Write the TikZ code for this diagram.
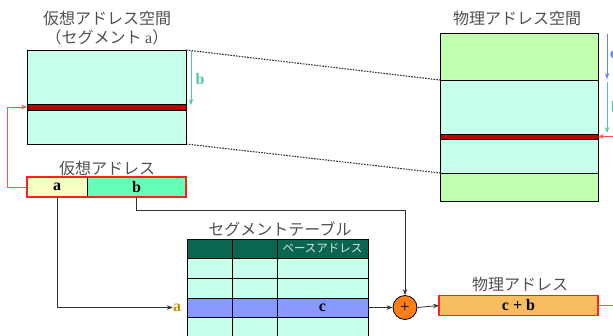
\documentclass[tikz,border=0pt]{standalone}
\usepackage{fontspec}
\setmainfont{Liberation Serif}
\newfontfamily\jp{Noto Sans CJK JP}
\newfontfamily\jph[RawFeature=+halt]{Noto Sans CJK JP}
\usetikzlibrary{arrows.meta,fit}
\definecolor{vcyan}{HTML}{C8FFEA}
\definecolor{vgreen}{HTML}{C0FFB0}
\definecolor{bandred}{HTML}{C00000}
\definecolor{ayellow}{HTML}{F8FFC0}
\definecolor{bmint}{HTML}{66FFB8}
\definecolor{hdr}{HTML}{0B6650}
\definecolor{tcyan}{HTML}{C8FFEA}
\definecolor{tblue}{HTML}{8899FF}
\definecolor{porange}{HTML}{F8BC60}
\definecolor{plusor}{HTML}{FF7F1A}
\definecolor{gold}{HTML}{C89000}
\definecolor{teal}{HTML}{50C8A0}
\definecolor{barrow}{HTML}{6080FF}
\definecolor{frred}{HTML}{FF2020}
\definecolor{lnred}{HTML}{FF5050}
\definecolor{titlegray}{HTML}{505050}
\definecolor{hdrtext}{HTML}{D8E8E0}
\begin{document}
\begin{tikzpicture}[x=1pt,y=-1pt,
  box/.style={draw=black, line width=0.8pt, inner sep=0pt, outer sep=0pt, anchor=north west},
  jtitle/.style={font=\jp\fontsize{16}{18}\selectfont, text=titlegray, inner sep=0pt},
  lat/.style={font=\bfseries\fontsize{16}{18}\selectfont},
  redframe/.style={draw=frred, line width=1.6pt, inner sep=0pt},
  redline/.style={draw=lnred, line width=0.8pt},
  tip/.style={-{Stealth[length=6pt,width=4.5pt]}},
  conn/.style={draw=black!80, line width=0.8pt},
  dotline/.style={dash pattern=on 1.6pt off 1.2pt, line width=1.1pt, draw=black!80}
]
\useasboundingbox (0,0) rectangle (613,335);

% virtual address space
\node[jtitle] (vt1) at (107,18) {仮想アドレス空間};
\node[jtitle] (vt2) at (107,37) {{\jph（}セグメント {\normalfont a}{\jph）}};
\node[box, fill=vcyan, minimum width=159pt, minimum height=94pt] (vs) at (27,50) {};
\node[box, fill=bandred, minimum width=159pt, minimum height=6pt] (vband) at (27,104) {};
\coordinate (vb1) at (191,51);
\coordinate (vb2) at (191,105);
\draw[draw=teal, line width=0.8pt, -{Stealth[length=6pt,width=4.5pt]}, teal] (vb1) -- (vb2);
\node[lat, text=teal] (vblab) at (200,79) {b};

% physical address space
\node[jtitle] (pt1) at (517,18) {物理アドレス空間};
\node[box, fill=vgreen, minimum width=158pt, minimum height=47pt] (p1) at (440,33) {};
\node[box, fill=vcyan, minimum width=158pt, minimum height=54pt] (p2) at (440,80) {};
\node[box, fill=vcyan, minimum width=158pt, minimum height=34pt] (p3) at (440,139) {};
\node[box, fill=vgreen, minimum width=158pt, minimum height=28pt] (p4) at (440,173) {};
\node[box, fill=bandred, minimum width=158pt, minimum height=5pt] (pband) at (440,134) {};
\draw[dotline] (vs.north east) -- (p2.north west);
\draw[dotline] (vs.south east) -- (p4.north west);
\coordinate (c1) at (607,34);
\coordinate (c2) at (607,79);
\coordinate (g1) at (607,82);
\coordinate (g2) at (607,133);
\draw[draw=barrow, line width=0.8pt, -{Stealth[length=6pt,width=4.5pt]}, barrow] (c1) -- (c2);
\draw[draw=teal!80, line width=0.8pt, -{Stealth[length=6pt,width=4.5pt]}, teal] (g1) -- (g2);
\node[lat, text=barrow, anchor=west, inner sep=0pt] (clab) at (610,55) {c};
\node[lat, text=teal, anchor=west, inner sep=0pt] (blab2) at (611,107) {b};

% virtual address
\node[jtitle] (vat) at (107,168) {仮想アドレス};
\node[box, fill=ayellow, minimum width=60pt, minimum height=20pt, lat] (vaa) at (27,177) {a};
\node[box, fill=bmint, minimum width=99pt, minimum height=20pt, lat] (vab) at (87,177) {b};
\node[redframe, fit=(vaa)(vab)] (va) {};
\draw[redline, -{Stealth[length=6pt,width=4.5pt]}, lnred] (va.west) -- ++(-19,0) |- (vband.west);

% segment table
\node[jtitle] (tt) at (280,229) {セグメントテーブル};
\foreach \r/\y/\h/\f in {0/239/19/hdr, 1/258/20/tcyan, 2/278/20/tcyan, 3/298/19/tblue, 4/317/25/tcyan}
  \foreach \c/\x/\w in {1/187/45, 2/232/45, 3/277/91}
    \node[box, fill=\f, minimum width=\w pt, minimum height=\h pt] (t\r\c) at (\x,\y) {};
\node[font=\jp\fontsize{11.5}{13}\selectfont, text=hdrtext, inner sep=0pt] (hdrlab) at (t03.center) {ベースアドレス};
\node[lat] (clab2) at (t33.center) {c};
\node[lat, text=gold, inner sep=0pt] (alab) at (177,307.5) {a};

% adder and physical address
\node[circle, draw=black, fill=plusor, line width=0.8pt, minimum size=24pt, inner sep=0pt, font=\fontsize{17}{17}\selectfont] (plus) at (405,307.5) {+};
\node[jtitle] (pat) at (520,284) {物理アドレス};
\node[box, fill=porange, minimum width=159pt, minimum height=20pt, lat, draw=frred, line width=1.6pt] (pa) at (439,295.5) {c + b};

% connectors
\draw[conn, tip] (vaa.south) |- (alab.west);
\draw[conn, tip] (vab.south) -- ++(0,13) -| (plus.north);
\draw[conn, tip] (t33.east) -- (plus.west);
\draw[conn, tip] (plus.east) -- (pa.west);
\draw[redline, -{Stealth[length=6pt,width=4.5pt]}, lnred] (pa.east) -- (640,305.5) |- (pband.east);
\end{tikzpicture}
\end{document}
